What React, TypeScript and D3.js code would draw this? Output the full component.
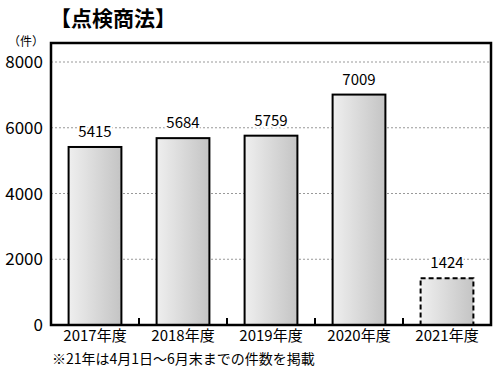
import React from "react";
import * as d3 from "d3";

const categories = ["2017年度", "2018年度", "2019年度", "2020年度", "2021年度"];
const values = [5415, 5684, 5759, 7009, 1424];
const partial = [false, false, false, false, true];
const yTicks = [0, 2000, 4000, 6000, 8000];
const title = "【点検商法】";
const unit = "（件）";
const footnote = "※21年は4月1日〜6月末までの件数を掲載";

const W = 500, H = 375;
const left = 51, right = 491, top = 43, bottom = 325;
const font = "'Noto Sans CJK JP', 'Noto Sans', sans-serif";

export default function App() {
  const x = d3.scaleBand<string>().domain(categories).range([left, right]).paddingInner(0.4).paddingOuter(0.2);
  const y = d3.scaleLinear().domain([0, 8000]).range([bottom, 62]);
  const bounds = categories.slice(1).map((c) => (x(c) as number) - x.step() * 0.2);

  return (
    <svg width={W} height={H} style={{ position: "absolute", left: 0, top: 0, background: "#fff" }} fontFamily={font}>
      <defs>
        <linearGradient id="barGrad" x1="0" x2="1" y1="0" y2="0">
          <stop offset="0%" stopColor="#efefef" />
          <stop offset="100%" stopColor="#c4c4c4" />
        </linearGradient>
      </defs>
      <rect x={0} y={0} width={W} height={H} fill="#fff" />
      <text x={50} y={26} fontSize={21} fontWeight="bold" fill="#000">{title}</text>
      <text x={44} y={46} fontSize={12} textAnchor="end" fill="#000">{unit}</text>
      {yTicks.filter((t) => t > 0).map((t) => (
        <line key={t} x1={left} x2={right} y1={y(t)} y2={y(t)} stroke="#999" strokeWidth={1} strokeDasharray="2,2" />
      ))}
      {yTicks.map((t) => (
        <text key={"l" + t} x={43} y={y(t) + 6} fontSize={17} textAnchor="end" fill="#000">{t}</text>
      ))}
      {categories.map((c, i) => {
        const bx = x(c) as number;
        const by = y(values[i]);
        return (
          <g key={c}>
            <rect x={bx} y={by} width={x.bandwidth()} height={bottom - by} fill="url(#barGrad)" stroke="#000"
              strokeWidth={2} strokeDasharray={partial[i] ? "5,3" : undefined} />
            <text x={bx + x.bandwidth() / 2} y={by - 10} fontSize={15} textAnchor="middle" fill="#000"
              stroke="#fff" strokeWidth={4} paintOrder="stroke">{values[i]}</text>
            <text x={bx + x.bandwidth() / 2} y={341} fontSize={15} textAnchor="middle" fill="#000">{c}</text>
          </g>
        );
      })}
      {bounds.map((b, i) => (
        <line key={"b" + i} x1={b} x2={b} y1={bottom} y2={bottom - 7} stroke="#000" strokeWidth={2} />
      ))}
      <rect x={left} y={top} width={right - left} height={bottom - top} fill="none" stroke="#000" strokeWidth={2.5} />
      <text x={52} y={364} fontSize={14} fill="#000">{footnote}</text>
    </svg>
  );
}
